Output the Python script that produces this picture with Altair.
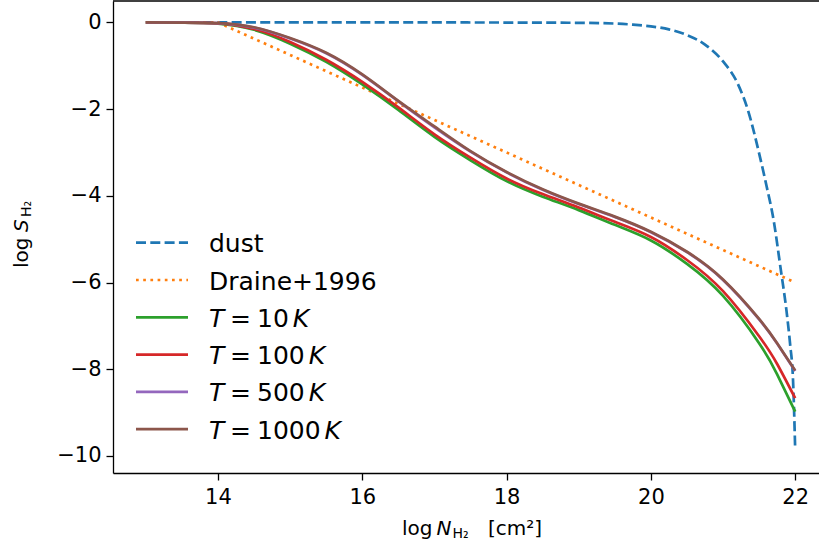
import altair as alt
import pandas as pd

# ---------------- data ----------------
dust_x = [13, 15, 17, 18, 19, 19.5, 19.75, 20, 20.25, 20.5, 20.75, 21, 21.2, 21.35,
          21.5, 21.6, 21.7, 21.8, 21.88, 21.93, 21.97, 22]
dust_y = [0, 0, 0, -0.002, -0.008, -0.025, -0.05, -0.09, -0.16, -0.29, -0.51, -0.9, -1.4, -2.05,
          -3.02, -3.75, -4.55, -5.7, -6.66, -7.43, -8.25, -9.85]

draine_x = [13, 14, 22]
draine_y = [0, 0, -6]

t_x = [13, 13.5, 14, 14.5, 15, 15.5, 16, 16.5, 17, 17.5, 18, 18.5, 19, 19.5, 20, 20.5,
       21, 21.5, 21.75, 22]
t10_y = [0, -0.004, -0.025, -0.17, -0.49, -0.91, -1.43, -2.02, -2.64, -3.18, -3.66, -4.02,
         -4.33, -4.67, -5.03, -5.57, -6.31, -7.40, -8.12, -8.98]
t100_y = [0, -0.003, -0.02, -0.15, -0.45, -0.86, -1.37, -1.96, -2.58, -3.12, -3.60, -3.96,
          -4.27, -4.60, -4.95, -5.48, -6.20, -7.24, -7.88, -8.67]
t500_y = [0, -0.002, -0.016, -0.12, -0.37, -0.71, -1.21, -1.82, -2.42, -2.98, -3.46, -3.86,
          -4.19, -4.49, -4.84, -5.30, -5.94, -6.85, -7.41, -8.04]
t1000_y = [0, -0.002, -0.015, -0.11, -0.36, -0.70, -1.20, -1.81, -2.40, -2.97, -3.45, -3.85,
           -4.18, -4.48, -4.83, -5.29, -5.93, -6.84, -7.40, -8.03]

temps = ["10", "100", "500", "1000"]
x_ticks = [14, 16, 18, 20, 22]
y_ticks = [0, -2, -4, -6, -8, -10]

# ---------------- styling ----------------
BLUE, ORANGE = "#1f77b4", "#ff7f0e"
T_COLORS = ["#2ca02c", "#d62728", "#9467bd", "#8c564b"]
DASH = [10, 4.3]
DOT = [2.7, 4.5]
LW = 2.7
FONT = "DejaVu Sans"

PAD_T = 1
W, H = 706, 472
XDOM = [12.545, 22.33]
YDOM = [-10.395, 0.495]

xs = alt.Scale(domain=XDOM, nice=False, zero=False)
ys = alt.Scale(domain=YDOM, nice=False, zero=False)
x_axis = alt.Axis(values=x_ticks, title=None, grid=False)
y_axis = alt.Axis(values=y_ticks, title=None, grid=False,
                  labelExpr="replace(datum.label, '-', '\u2212')")


def curve(xv, yv, color, dash=None, interp="natural"):
    df = pd.DataFrame({"x": xv, "y": yv})
    kw = dict(color=color, strokeWidth=LW, interpolate=interp, clip=True)
    if dash:
        kw["strokeDash"] = dash
    return alt.Chart(df).mark_line(**kw).encode(
        x=alt.X("x:Q", scale=xs, axis=x_axis),
        y=alt.Y("y:Q", scale=ys, axis=y_axis),
    )


def text(s, x, y, size, style="normal", angle=0):
    return alt.Chart(pd.DataFrame({"t": [s]})).mark_text(
        align="left", baseline="alphabetic", font=FONT, fontSize=size,
        fontStyle=style, color="black", angle=angle,
    ).encode(text="t:N", x=alt.value(x), y=alt.value(y))


def sample(y, color, dash=None):
    kw = dict(color=color, strokeWidth=LW)
    if dash:
        kw["strokeDash"] = dash
    return alt.Chart(pd.DataFrame({"a": [0]})).mark_rule(**kw).encode(
        x=alt.value(23), x2=alt.value(75), y=alt.value(y))


layers = [curve(dust_x, dust_y, BLUE, DASH, "monotone"),
          curve(draine_x, draine_y, ORANGE, DOT, "linear")]
for yv, c in zip([t10_y, t100_y, t500_y, t1000_y], T_COLORS):
    layers.append(curve(t_x, yv, c))

# top spine (the right one is cut off in the reference)
layers.append(alt.Chart(pd.DataFrame({"a": [0]})).mark_rule(color="black", strokeWidth=1.3)
              .encode(x=alt.value(0), x2=alt.value(W), y=alt.value(0)))

# ---------------- legend ----------------
LS = 25
row0, step = 242.7 - PAD_T, 37.3
base = 9.5
layers.append(sample(row0, BLUE, DASH))
layers.append(text("dust", 96, row0 + base, LS))
layers.append(sample(row0 + step, ORANGE, DOT))
layers.append(text("Draine+1996", 96, row0 + step + base, LS))
for i, (t, c) in enumerate(zip(temps, T_COLORS)):
    yy = row0 + (i + 2) * step
    layers.append(sample(yy, c))
    layers.append(text("T", 96, yy + base, LS, "italic"))
    layers.append(text("=", 117, yy + base, LS))
    layers.append(text(t, 144, yy + base, LS))
    kx = 144 + len(t) * 0.636 * LS + 4
    layers.append(text("K", kx, yy + base, LS, "italic"))

# ---------------- axis titles ----------------
TS, SS = 20, 14
# x title: log N_H2  [cm^2]
layers.append(text("log", 289, 535 - PAD_T, TS))
layers.append(text("N", 323.5, 535 - PAD_T, TS, "italic"))
layers.append(text("H\u2082", 339.5, 538 - PAD_T, SS))
layers.append(text("[cm\u00b2]", 375, 535 - PAD_T, TS))
# y title: log S_H2 (rotated)
layers.append(text("log", -85, 268 - PAD_T, TS, angle=270))
layers.append(text("S", -85, 232 - PAD_T, TS, "italic", angle=270))
layers.append(text("H\u2082", -82, 217 - PAD_T, SS, angle=270))

chart = alt.layer(*layers).properties(
    width=W, height=H,
    padding={"left": 113, "top": PAD_T, "right": 0, "bottom": 549 - PAD_T - H},
    autosize=alt.AutoSizeParams(type="none"),
).configure_view(stroke=None).configure_axis(
    domainColor="black", domainWidth=1.3, tickColor="black", tickWidth=1.3, tickSize=7,
    labelFont=FONT, labelFontSize=21, labelColor="black", labelPadding=6,
).configure_axisY(labelPadding=5)

chart.save("out.html", embed_options={"renderer": "svg", "actions": False})
